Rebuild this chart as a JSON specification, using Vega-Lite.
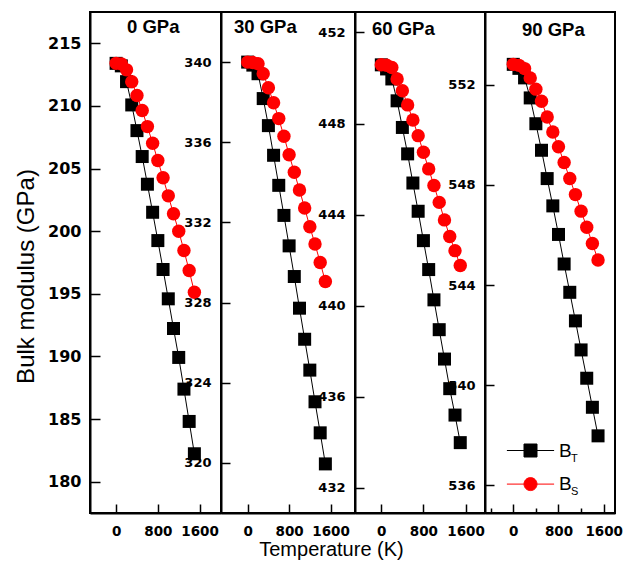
{
  "$schema": "https://vega.github.io/schema/vega-lite/v6.json",
  "padding": {"left": 13, "top": 11, "right": 5, "bottom": 5},
  "background": "white",
  "spacing": 0,
  "bounds": "flush",
  "data": {"values": [
    {"P":0,"T":0,"BT":213.4,"BS":213.4},
    {"P":0,"T":100,"BT":213.2,"BS":213.36},
    {"P":0,"T":200,"BT":211.94,"BS":212.88},
    {"P":0,"T":300,"BT":210.08,"BS":211.94},
    {"P":0,"T":400,"BT":208.03,"BS":210.83},
    {"P":0,"T":500,"BT":205.96,"BS":209.63},
    {"P":0,"T":600,"BT":203.75,"BS":208.35},
    {"P":0,"T":700,"BT":201.51,"BS":207.02},
    {"P":0,"T":800,"BT":199.25,"BS":205.64},
    {"P":0,"T":900,"BT":196.94,"BS":204.26},
    {"P":0,"T":1000,"BT":194.6,"BS":202.82},
    {"P":0,"T":1100,"BT":192.23,"BS":201.39},
    {"P":0,"T":1200,"BT":189.92,"BS":200.0},
    {"P":0,"T":1300,"BT":187.39,"BS":198.46},
    {"P":0,"T":1400,"BT":184.81,"BS":196.86},
    {"P":0,"T":1500,"BT":182.23,"BS":195.13},
    {"P":30,"T":0,"BT":340.0,"BS":340.0},
    {"P":30,"T":100,"BT":339.85,"BS":339.98},
    {"P":30,"T":200,"BT":339.42,"BS":339.92},
    {"P":30,"T":300,"BT":338.18,"BS":339.42},
    {"P":30,"T":400,"BT":336.83,"BS":338.72},
    {"P":30,"T":500,"BT":335.35,"BS":337.97},
    {"P":30,"T":600,"BT":333.85,"BS":337.18},
    {"P":30,"T":700,"BT":332.35,"BS":336.3},
    {"P":30,"T":800,"BT":330.83,"BS":335.38},
    {"P":30,"T":900,"BT":329.3,"BS":334.5},
    {"P":30,"T":1000,"BT":327.72,"BS":333.62},
    {"P":30,"T":1100,"BT":326.17,"BS":332.72},
    {"P":30,"T":1200,"BT":324.63,"BS":331.78},
    {"P":30,"T":1300,"BT":323.05,"BS":330.92},
    {"P":30,"T":1400,"BT":321.5,"BS":330.0},
    {"P":30,"T":1500,"BT":319.95,"BS":329.05},
    {"P":60,"T":0,"BT":450.58,"BS":450.58},
    {"P":60,"T":100,"BT":450.4,"BS":450.56},
    {"P":60,"T":200,"BT":449.96,"BS":450.46},
    {"P":60,"T":300,"BT":449.0,"BS":449.96},
    {"P":60,"T":400,"BT":447.83,"BS":449.44},
    {"P":60,"T":500,"BT":446.67,"BS":448.82},
    {"P":60,"T":600,"BT":445.39,"BS":448.16},
    {"P":60,"T":700,"BT":444.15,"BS":447.47},
    {"P":60,"T":800,"BT":442.86,"BS":446.74},
    {"P":60,"T":900,"BT":441.59,"BS":446.01},
    {"P":60,"T":1000,"BT":440.26,"BS":445.28},
    {"P":60,"T":1100,"BT":438.95,"BS":444.54},
    {"P":60,"T":1200,"BT":437.66,"BS":443.77},
    {"P":60,"T":1300,"BT":436.36,"BS":443.04},
    {"P":60,"T":1400,"BT":435.2,"BS":442.42},
    {"P":60,"T":1500,"BT":433.99,"BS":441.77},
    {"P":90,"T":0,"BT":552.81,"BS":552.81},
    {"P":90,"T":100,"BT":552.65,"BS":552.77},
    {"P":90,"T":200,"BT":552.27,"BS":552.64},
    {"P":90,"T":300,"BT":551.47,"BS":552.27},
    {"P":90,"T":400,"BT":550.44,"BS":551.82},
    {"P":90,"T":500,"BT":549.38,"BS":551.34},
    {"P":90,"T":600,"BT":548.25,"BS":550.71},
    {"P":90,"T":700,"BT":547.16,"BS":550.11},
    {"P":90,"T":800,"BT":546.02,"BS":549.52},
    {"P":90,"T":900,"BT":544.84,"BS":548.89},
    {"P":90,"T":1000,"BT":543.71,"BS":548.25},
    {"P":90,"T":1100,"BT":542.57,"BS":547.61},
    {"P":90,"T":1200,"BT":541.41,"BS":546.95},
    {"P":90,"T":1300,"BT":540.28,"BS":546.31},
    {"P":90,"T":1400,"BT":539.12,"BS":545.66},
    {"P":90,"T":1500,"BT":537.98,"BS":545.0}
  ]},
  "hconcat": [
    {
      "width": 131, "height": 501,
      "title": {"text": "0 GPa", "anchor": "start", "dx": 37, "offset": 0, "dy": 39, "baseline": "alphabetic", "frame": "group"},
      "transform": [{"filter": "datum.P == 0"}, {"fold": ["BT", "BS"], "as": ["s", "B"]}],
      "encoding": {
        "x": {"field": "T", "type": "quantitative", "scale": {"domain": [-500, 2010], "nice": false, "zero": false}, "axis": {"values": [0, 800, 1600], "title": null}},
        "y": {"field": "B", "type": "quantitative", "scale": {"domain": [177.5, 217.5], "nice": false, "zero": false},
              "axis": {"values": [180, 185, 190, 195, 200, 205, 210, 215], "labelFontSize": 16, "tickSize": -10, "labelPadding": 19,
                       "title": "Bulk modulus (GPa)", "titleFont": "Liberation Sans", "titleFontSize": 24, "titleFontWeight": "normal",
                       "titleX": -56.7, "titleY": 264, "titleAngle": -90, "titleAlign": "center", "titleBaseline": "alphabetic"}}
      },
      "layer": [
        {"transform": [{"filter": "datum.s == 'BT'"}], "mark": {"type": "line", "color": "black", "strokeWidth": 1}},
        {"transform": [{"filter": "datum.s == 'BT'"}], "mark": {"type": "point", "shape": "square", "filled": true, "color": "black", "size": 169, "opacity": 1}},
        {"transform": [{"filter": "datum.s == 'BS'"}], "mark": {"type": "line", "color": "#ff0000", "strokeWidth": 1}},
        {"transform": [{"filter": "datum.s == 'BS'"}], "mark": {"type": "point", "shape": "circle", "filled": true, "color": "#ff0000", "size": 180, "opacity": 1}}
      ]
    },
    {
      "width": 134, "height": 501,
      "title": {"text": "30 GPa", "anchor": "start", "dx": 13, "offset": 0, "dy": 39, "baseline": "alphabetic", "frame": "group"},
      "transform": [{"filter": "datum.P == 30"}, {"fold": ["BT", "BS"], "as": ["s", "B"]}],
      "encoding": {
        "x": {"field": "T", "type": "quantitative", "scale": {"domain": [-515, 2072], "nice": false, "zero": false},
              "axis": {"values": [0, 800, 1600], "title": "Temperature (K)", "titleFont": "Liberation Sans", "titleFontSize": 20, "titleFontWeight": "normal",
                       "titleX": 110, "titleY": 42, "titleAlign": "center", "titleBaseline": "alphabetic", "titleAngle": 0}},
        "y": {"field": "B", "type": "quantitative", "scale": {"domain": [317.5, 342.5], "nice": false, "zero": false},
              "axis": {"values": [320, 324, 328, 332, 336, 340], "title": null}}
      },
      "layer": [
        {"transform": [{"filter": "datum.s == 'BT'"}], "mark": {"type": "line", "color": "black", "strokeWidth": 1}},
        {"transform": [{"filter": "datum.s == 'BT'"}], "mark": {"type": "point", "shape": "square", "filled": true, "color": "black", "size": 169, "opacity": 1}},
        {"transform": [{"filter": "datum.s == 'BS'"}], "mark": {"type": "line", "color": "#ff0000", "strokeWidth": 1}},
        {"transform": [{"filter": "datum.s == 'BS'"}], "mark": {"type": "point", "shape": "circle", "filled": true, "color": "#ff0000", "size": 180, "opacity": 1}}
      ]
    },
    {
      "width": 130, "height": 501,
      "title": {"text": "60 GPa", "anchor": "start", "dx": 17, "offset": 0, "dy": 41, "baseline": "alphabetic", "frame": "group"},
      "transform": [{"filter": "datum.P == 60"}, {"fold": ["BT", "BS"], "as": ["s", "B"]}],
      "encoding": {
        "x": {"field": "T", "type": "quantitative", "scale": {"domain": [-500, 1970], "nice": false, "zero": false}, "axis": {"values": [0, 800, 1600], "title": null}},
        "y": {"field": "B", "type": "quantitative", "scale": {"domain": [430.9, 452.9], "nice": false, "zero": false},
              "axis": {"values": [432, 436, 440, 444, 448, 452], "title": null}}
      },
      "layer": [
        {"transform": [{"filter": "datum.s == 'BT'"}], "mark": {"type": "line", "color": "black", "strokeWidth": 1}},
        {"transform": [{"filter": "datum.s == 'BT'"}], "mark": {"type": "point", "shape": "square", "filled": true, "color": "black", "size": 169, "opacity": 1}},
        {"transform": [{"filter": "datum.s == 'BS'"}], "mark": {"type": "line", "color": "#ff0000", "strokeWidth": 1}},
        {"transform": [{"filter": "datum.s == 'BS'"}], "mark": {"type": "point", "shape": "circle", "filled": true, "color": "#ff0000", "size": 180, "opacity": 1}}
      ]
    },
    {
      "width": 130, "height": 501,
      "title": {"text": "90 GPa", "anchor": "start", "dx": 37, "offset": 0, "dy": 42, "baseline": "alphabetic", "frame": "group"},
      "transform": [{"filter": "datum.P == 90"}, {"fold": ["BT", "BS"], "as": ["s", "B"]}],
      "encoding": {
        "x": {"field": "T", "type": "quantitative", "scale": {"domain": [-500, 1800], "nice": false, "zero": false}, "axis": null},
        "y": {"field": "B", "type": "quantitative", "scale": {"domain": [534.9, 554.9], "nice": false, "zero": false},
              "axis": {"values": [536, 540, 544, 548, 552], "title": null}}
      },
      "resolve": {"axis": {"x": "independent"}},
      "layer": [
        {"transform": [{"filter": "datum.s == 'BT'"}], "mark": {"type": "line", "color": "black", "strokeWidth": 1},
         "encoding": {"x": {"field": "T", "type": "quantitative", "scale": {"domain": [-500, 1800], "nice": false, "zero": false}, "axis": {"values": [0, 800, 1600], "title": null, "orient": "bottom"}}}},
        {"transform": [{"filter": "datum.s == 'BT'"}], "mark": {"type": "point", "shape": "square", "filled": true, "color": "black", "size": 169, "opacity": 1}},
        {"transform": [{"filter": "datum.s == 'BS'"}], "mark": {"type": "line", "color": "#ff0000", "strokeWidth": 1}},
        {"transform": [{"filter": "datum.s == 'BS'"}], "mark": {"type": "point", "shape": "circle", "filled": true, "color": "#ff0000", "size": 180, "opacity": 1}},
        {"transform": [{"filter": "false"}], "mark": {"type": "point", "opacity": 1},
         "encoding": {
           "x": {"field": "T", "type": "quantitative", "scale": {"domain": [-500, 1800], "nice": false, "zero": false},
                 "axis": {"values": [-400, 400, 1200], "labels": false, "domain": false, "tickSize": -5, "orient": "bottom", "title": null}},
           "fill": {"field": "s", "type": "nominal", "scale": {"domain": ["BT", "BS"], "range": ["black", "#ff0000"]},
                    "legend": {"title": null, "orient": "none", "legendX": 431, "legendY": 429, "labelExpr": "'B'", "labelFont": "Liberation Sans", "labelFontSize": 19, "labelColor": "black", "symbolSize": 169, "symbolStrokeWidth": 1, "symbolOpacity": 1, "labelOffset": 19, "rowPadding": 13.6, "padding": 0}},
           "stroke": {"field": "s", "type": "nominal", "scale": {"domain": ["BT", "BS"], "range": ["black", "#ff0000"]},
                    "legend": {"title": null, "orient": "none", "legendX": 431, "legendY": 429, "labelExpr": "'B'", "labelFont": "Liberation Sans", "labelFontSize": 19, "labelColor": "black", "symbolSize": 169, "symbolStrokeWidth": 1, "symbolOpacity": 1, "labelOffset": 19, "rowPadding": 13.6, "padding": 0}},
           "shape": {"field": "s", "type": "nominal", "scale": {"domain": ["BT", "BS"], "range": ["M-3.63,0H3.63M-1,-1H1V1H-1Z", "M-3.63,0H3.63M1,0A1,1,0,1,1,-1,0A1,1,0,1,1,1,0Z"]},
                    "legend": {"title": null, "orient": "none", "legendX": 431, "legendY": 429, "labelExpr": "'B'", "labelFont": "Liberation Sans", "labelFontSize": 19, "labelColor": "black", "symbolSize": 169, "symbolStrokeWidth": 1, "symbolOpacity": 1, "labelOffset": 19, "rowPadding": 13.6, "padding": 0}},
           "strokeDash": {"field": "s", "type": "nominal", "scale": {"domain": ["T", "S"], "range": [[1, 0], [1, 0]]},
                    "legend": {"title": null, "orient": "none", "legendX": 470, "legendY": 441.5, "labelFont": "Liberation Sans", "labelFontSize": 11, "labelColor": "black", "symbolOpacity": 0, "symbolSize": 4, "labelOffset": 0, "rowPadding": 21, "padding": 0}}
         }}
      ]
    }
  ],
  "config": {
    "view": {"stroke": "black", "strokeWidth": 2},
    "numberFormat": "d",
    "title": {"font": "Liberation Sans", "fontSize": 18.5, "fontWeight": "bold", "color": "black"},
    "axis": {"grid": false, "domainColor": "black", "domainWidth": 2, "tickColor": "black", "tickWidth": 1.5, "tickSize": -9,
             "labelFont": "DejaVu Sans", "labelFontWeight": "bold", "labelColor": "black", "labelOverlap": false, "labelFlush": false, "labelBound": false, "titleColor": "black"},
    "axisX": {"labelFontSize": 13.5, "labelPadding": 20},
    "axisY": {"labelFontSize": 13, "labelPadding": 19}
  }
}
